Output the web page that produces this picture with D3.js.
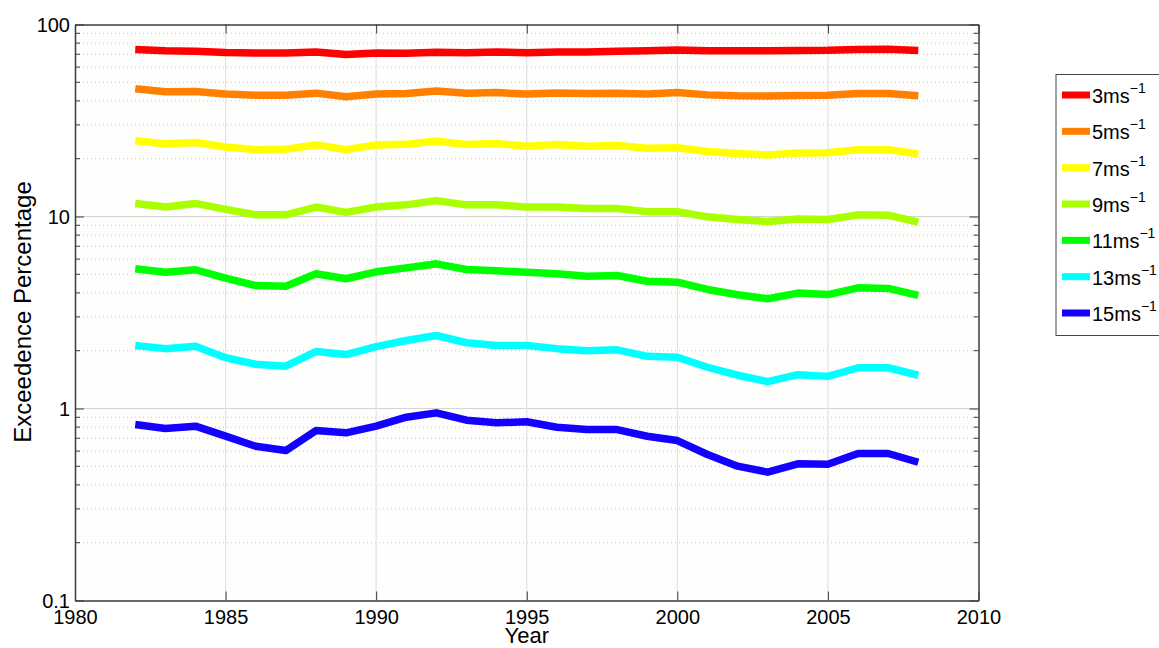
<!DOCTYPE html>
<html>
<head>
<meta charset="utf-8">
<script src="https://cdn.jsdelivr.net/npm/d3@7/dist/d3.min.js"></script>
<style>
  html, body { margin: 0; padding: 0; background: #ffffff; }
  svg { display: block; font-family: "Liberation Sans", Arial, Helvetica, sans-serif; }
</style>
</head>
<body>
<svg id="chart" width="1159" height="648"></svg>
<script>
const years = d3.range(1982, 2009);
const seriesLabels = ["3", "5", "7", "9", "11", "13", "15"];
const seriesColors = ["#ff0000", "#ff8000", "#ffff00", "#aaff00", "#00ff00", "#00ffff", "#1400ff"];
const s3ms  = [74.1, 73.0, 72.6, 71.5, 71.0, 71.0, 72.0, 69.8, 71.0, 70.8, 71.6, 71.2, 72.0, 71.2, 72.0, 72.0, 72.5, 73.0, 73.6, 73.0, 73.0, 73.0, 73.2, 73.4, 74.2, 74.3, 73.2];
const s5ms  = [46.3, 44.6, 44.8, 43.4, 42.8, 42.8, 43.9, 42.0, 43.5, 43.7, 45.1, 43.9, 44.2, 43.4, 44.0, 43.7, 43.9, 43.4, 44.2, 43.0, 42.5, 42.4, 42.7, 42.8, 43.7, 43.7, 42.5];
const s7ms  = [24.8, 23.9, 24.3, 23.0, 22.3, 22.4, 23.6, 22.3, 23.6, 23.8, 24.7, 23.7, 24.0, 23.2, 23.7, 23.2, 23.4, 22.7, 22.8, 21.8, 21.3, 20.9, 21.4, 21.5, 22.3, 22.3, 21.2];
const s9ms  = [11.7, 11.2, 11.7, 10.9, 10.2, 10.2, 11.2, 10.5, 11.2, 11.5, 12.1, 11.5, 11.5, 11.2, 11.2, 11.0, 11.0, 10.6, 10.6, 9.96, 9.65, 9.42, 9.7, 9.65, 10.2, 10.15, 9.34];
const s11ms = [5.34, 5.13, 5.28, 4.77, 4.37, 4.33, 5.03, 4.74, 5.15, 5.40, 5.67, 5.30, 5.21, 5.13, 5.03, 4.89, 4.93, 4.60, 4.55, 4.17, 3.91, 3.73, 3.99, 3.92, 4.25, 4.22, 3.88];
const s13ms = [2.13, 2.05, 2.11, 1.84, 1.70, 1.66, 1.98, 1.91, 2.10, 2.26, 2.40, 2.20, 2.13, 2.13, 2.05, 2.00, 2.02, 1.87, 1.85, 1.64, 1.49, 1.38, 1.50, 1.47, 1.63, 1.63, 1.49];
const s15ms = [0.825, 0.787, 0.809, 0.718, 0.636, 0.604, 0.768, 0.747, 0.809, 0.901, 0.949, 0.869, 0.842, 0.853, 0.799, 0.777, 0.777, 0.717, 0.681, 0.576, 0.501, 0.466, 0.515, 0.512, 0.583, 0.583, 0.525];
const seriesValues = [s3ms, s5ms, s7ms, s9ms, s11ms, s13ms, s15ms];
const xTicks = [1980, 1985, 1990, 1995, 2000, 2005, 2010];
const yTicks = [0.1, 1, 10, 100];
const yTickLabels = ["0.1", "1", "10", "100"];

const svg = d3.select("#chart");
const L = 75, T = 24.5, R = 978.5, B = 600.5;
const x = d3.scaleLinear().domain([1980, 2010]).range([L, R]);
const y = d3.scaleLog().domain([0.1, 100]).range([B, T]);

// plot background
svg.append("rect").attr("x", L).attr("y", T).attr("width", R - L).attr("height", B - T).attr("fill", "#fefefc");

// minor y values
const minorY = [];
[0.1, 1, 10].forEach(d => { for (let k = 2; k <= 9; k++) minorY.push(d * k); });

const grid = svg.append("g");
grid.selectAll("line.minor").data(minorY).join("line")
  .attr("x1", L).attr("x2", R).attr("y1", d => y(d)).attr("y2", d => y(d))
  .attr("stroke", "#c8c8c8").attr("stroke-width", 1).attr("stroke-dasharray", "1,3");
grid.selectAll("line.majy").data([1, 10]).join("line")
  .attr("x1", L).attr("x2", R).attr("y1", d => y(d)).attr("y2", d => y(d))
  .attr("stroke", "#d4d4d4").attr("stroke-width", 1.2);
grid.selectAll("line.majx").data(xTicks.slice(1, -1)).join("line")
  .attr("x1", d => x(d)).attr("x2", d => x(d)).attr("y1", T).attr("y2", B)
  .attr("stroke", "#e2e2e2").attr("stroke-width", 1.2);

// lines
const line = d3.line().x((d, i) => x(years[i])).y(d => y(d));
svg.append("g").selectAll("path").data(seriesValues).join("path")
  .attr("d", d => line(d))
  .attr("fill", "none")
  .attr("stroke", (d, i) => seriesColors[i])
  .attr("stroke-width", 7.5)
  .attr("stroke-linejoin", "round");

// axes (inward ticks)
const axisColor = "#3a3a3a";
const xb = svg.append("g").attr("transform", `translate(0,${B})`)
  .call(d3.axisBottom(x).tickValues(xTicks).tickFormat(d3.format("d")).tickSizeInner(-9).tickSizeOuter(0).tickPadding(8));
const xt = svg.append("g").attr("transform", `translate(0,${T})`)
  .call(d3.axisTop(x).tickValues(xTicks).tickFormat("").tickSizeInner(-9).tickSizeOuter(0));
const yl = svg.append("g").attr("transform", `translate(${L},0)`)
  .call(d3.axisLeft(y).tickValues(yTicks).tickFormat((d, i) => yTickLabels[i]).tickSizeInner(-9).tickSizeOuter(0).tickPadding(4));
const yr = svg.append("g").attr("transform", `translate(${R},0)`)
  .call(d3.axisRight(y).tickValues(yTicks).tickFormat("").tickSizeInner(-9).tickSizeOuter(0));
// minor ticks
svg.append("g").selectAll("line").data(minorY).join("line")
  .attr("x1", L).attr("x2", L + 5).attr("y1", d => y(d)).attr("y2", d => y(d))
  .attr("stroke", axisColor);
svg.append("g").selectAll("line").data(minorY).join("line")
  .attr("x1", R).attr("x2", R - 5).attr("y1", d => y(d)).attr("y2", d => y(d))
  .attr("stroke", axisColor);

[xb, xt, yl, yr].forEach(g => {
  g.selectAll(".domain").attr("stroke", axisColor).attr("stroke-width", 1.5);
  g.selectAll(".tick line").attr("stroke", axisColor).attr("stroke-width", 1);
  g.selectAll("text").attr("fill", "#000").style("font-size", "20px");
});
xb.selectAll("text").attr("dy", null).attr("y", 23.5);
yl.selectAll("text").attr("x", -5).attr("dy", "0.33em");

// axis titles
svg.append("text").attr("x", x(1995)).attr("y", 643).attr("text-anchor", "middle")
  .style("font-size", "22px").text("Year");
svg.append("text").attr("transform", `translate(31,${312}) rotate(-90)`).attr("text-anchor", "middle")
  .style("font-size", "24px").text("Exceedence Percentage");

// legend
const lg = svg.append("g");
lg.append("rect").attr("x", 1056).attr("y", 74.5).attr("width", 110).attr("height", 261)
  .attr("fill", "#ffffff").attr("stroke", "#444").attr("stroke-width", 1);
const rowY = d3.scalePoint().domain(seriesLabels).range([95, 313]);
const rows = lg.selectAll("g.row").data(seriesLabels).join("g").attr("class", "row")
  .attr("transform", d => `translate(0,${rowY(d)})`);
rows.append("line").attr("x1", 1062).attr("x2", 1090).attr("y1", 0).attr("y2", 0)
  .attr("stroke", (d, i) => seriesColors[i]).attr("stroke-width", 7);
const t = rows.append("text").attr("x", 1092).attr("y", 8).style("font-size", "20px");
t.append("tspan").text(d => d + "ms");
t.append("tspan").attr("dy", -10).style("font-size", "14px").text("\u22121");
</script>
</body>
</html>
